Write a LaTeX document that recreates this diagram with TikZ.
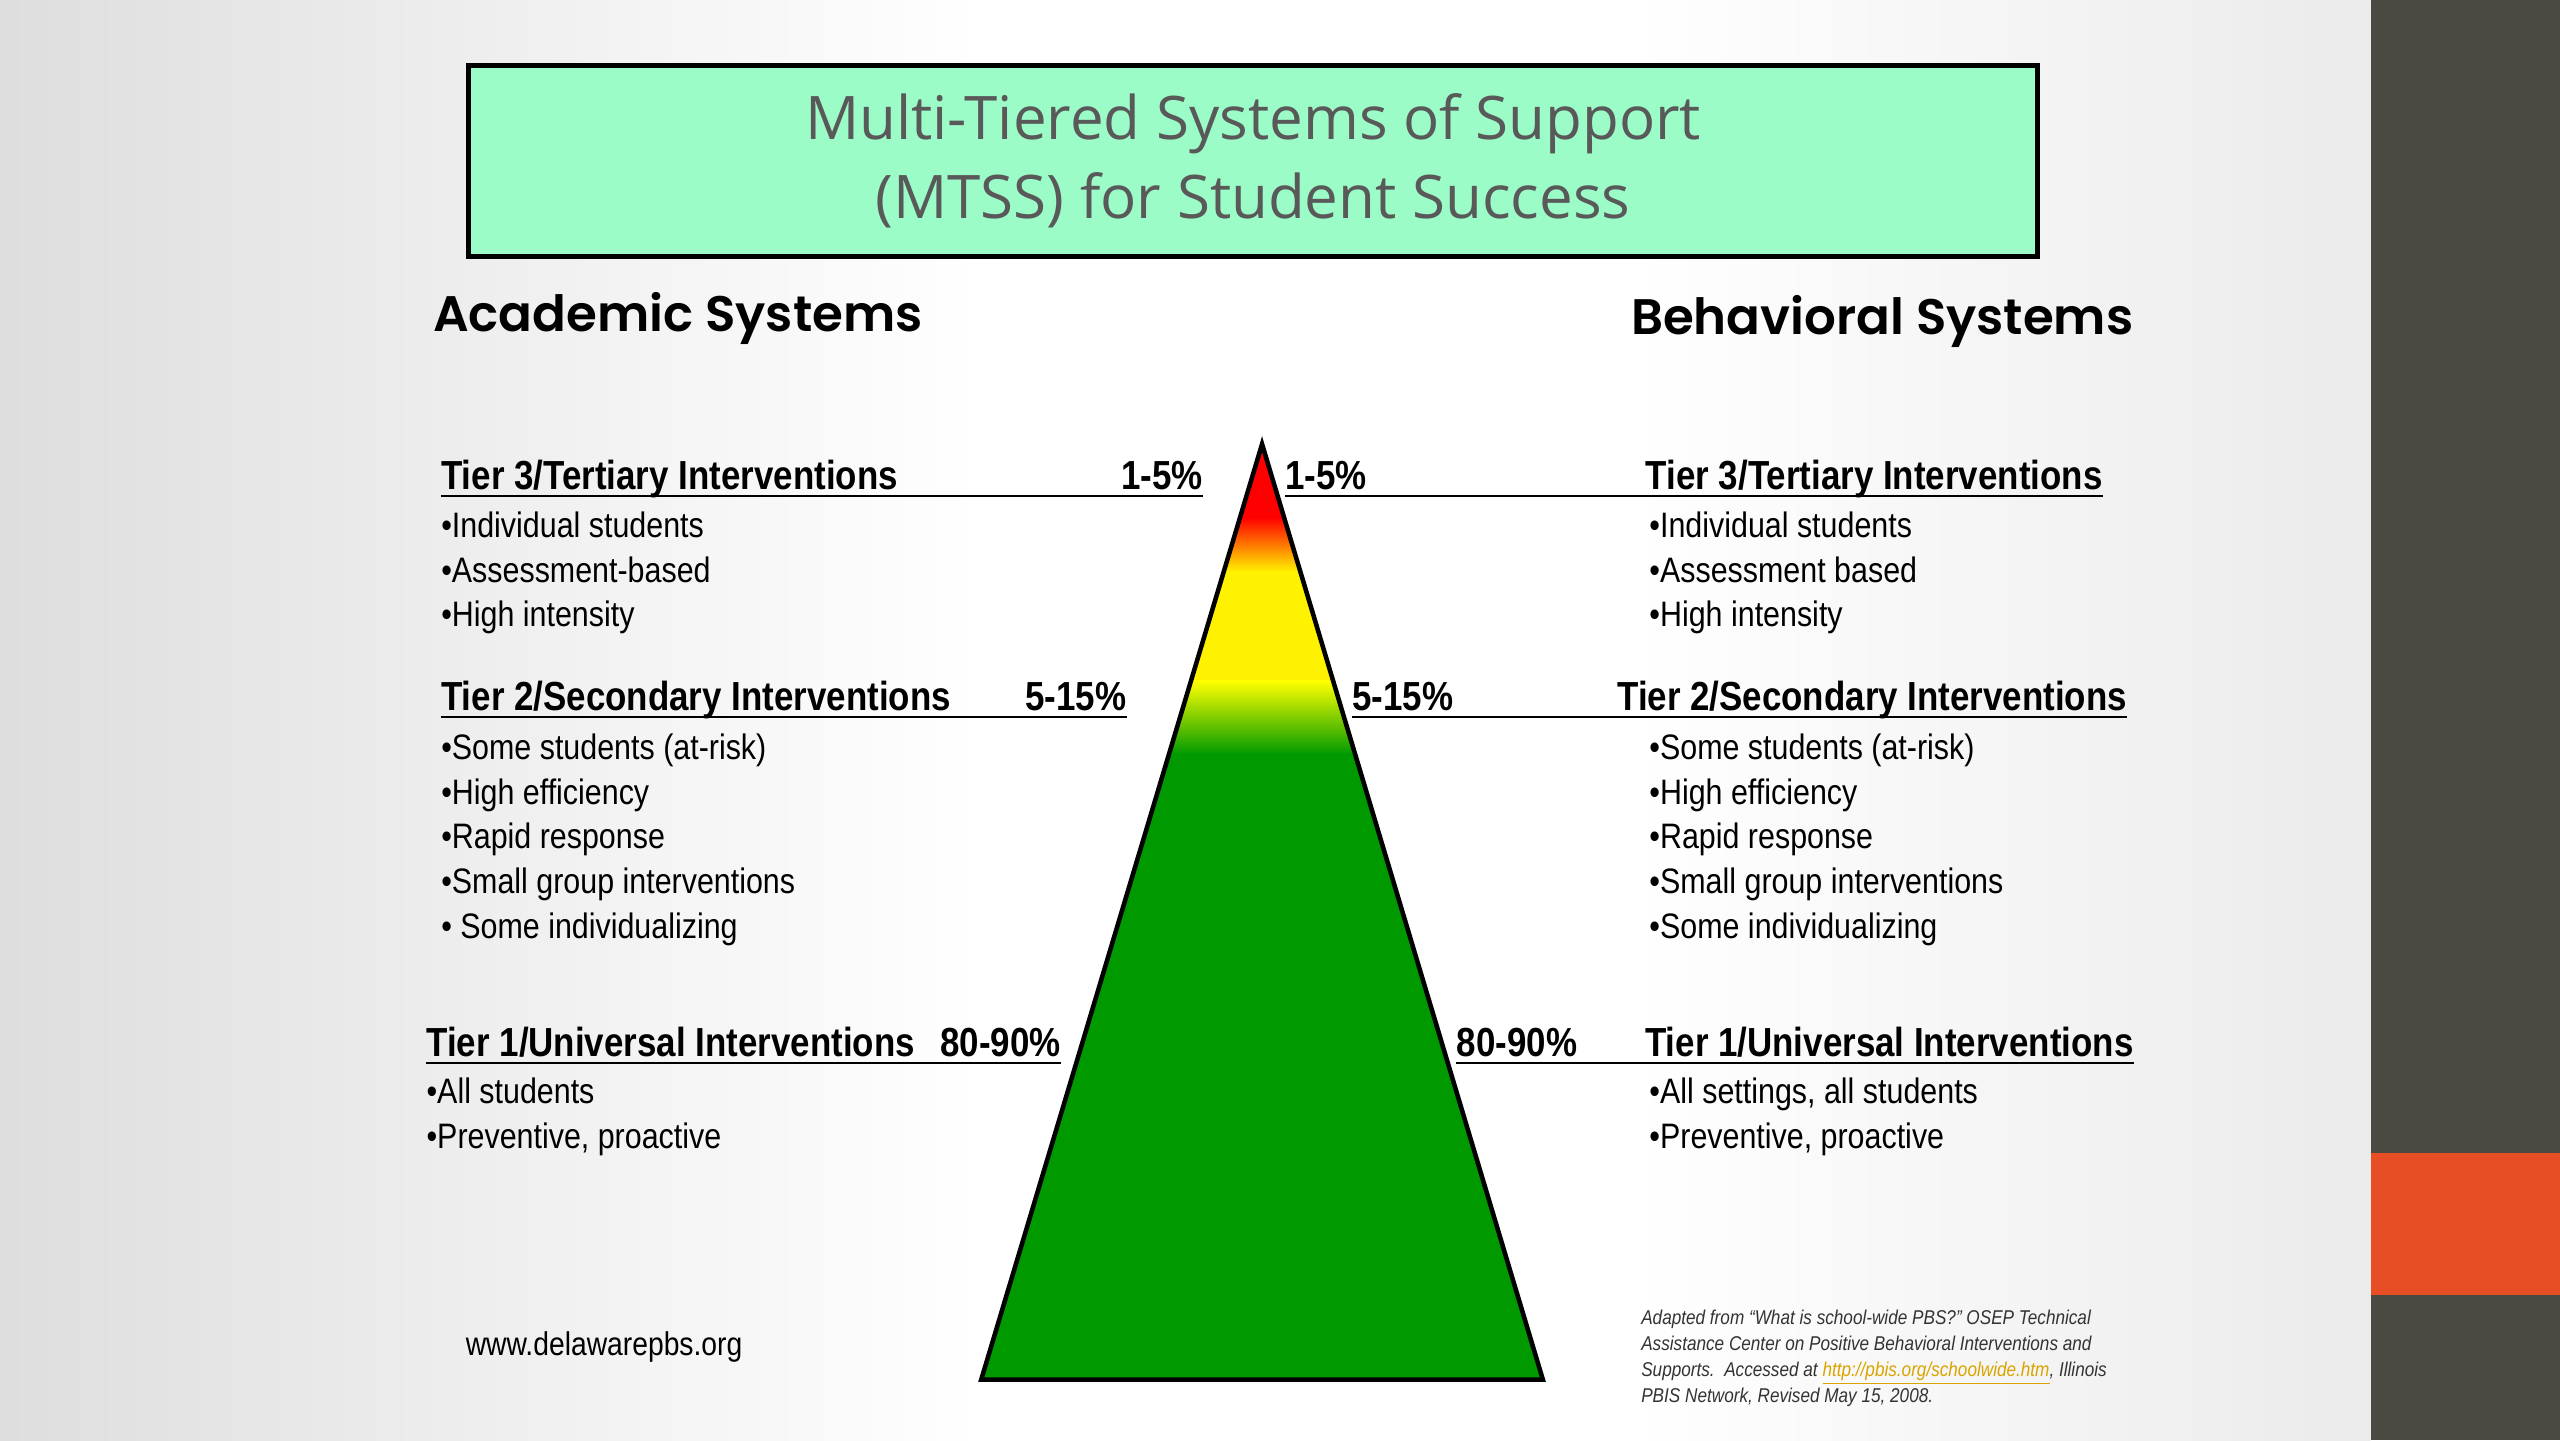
\documentclass[tikz,border=0pt]{standalone}
\usepackage{fontspec}
\setmainfont{Liberation Sans}[FakeStretch=0.86]
\newfontfamily\titlefont{Open Sans}
\newfontfamily\headfont{Poppins}[BoldFont=* SemiBold]
\usetikzlibrary{positioning}
\definecolor{mint}{HTML}{9CFCC8}
\definecolor{tiergreen}{HTML}{009A00}
\definecolor{slate}{HTML}{4A4A42}
\definecolor{rust}{HTML}{E84E25}
\definecolor{link}{HTML}{D9A400}

\begin{document}
\begin{tikzpicture}[x=0.72pt,y=-0.72pt,
	tierhead/.style={inner sep=0pt,font=\fontsize{17.9}{20}\selectfont\bfseries},
	bullets/.style={inner sep=0pt,align=left,anchor=north west,font=\fontsize{15.6}{19.8}\selectfont},
	tierline/.style={line width=0.9pt}]
	% background
	\useasboundingbox (0,0) rectangle (1568,882);
	\shade[left color=black!13,right color=white] (0,0) rectangle (600,882);
	\fill[white] (600,0) rectangle (1000,882);
	\shade[left color=white,right color=black!8] (1000,0) rectangle (1452,882);
	\fill[slate] (1452,0) rectangle (1568,882);
	\fill[rust] (1452,706) rectangle (1568,793);

	% title
	\node[draw=black,line width=2pt,fill=mint,minimum width=961*0.72pt,minimum height=117*0.72pt,
		align=center,text=black!65,font=\titlefont\fontsize{26.5}{35}\selectfont] (title) at (767.5,98.5)
		{Multi-Tiered Systems of Support\\(MTSS) for Student Success};
	\node[anchor=west,inner sep=0pt,font=\headfont\fontsize{22}{24}\selectfont\bfseries] (acad) at (265,195) {Academic Systems};
	\node[anchor=east,inner sep=0pt,font=\headfont\fontsize{22}{24}\selectfont\bfseries] (behav) at (1307,197) {Behavioral Systems};

	% triangle
	\begin{scope}
		\clip (773,272) -- (945,845) -- (601,845) -- cycle;
		\fill[red] (590,265) rectangle (960,318);
		\shade[top color=red,bottom color=yellow] (590,317) rectangle (960,352);
		\fill[yellow] (590,351) rectangle (960,418);
		\shade[top color=yellow,bottom color=tiergreen] (590,417) rectangle (960,462);
		\fill[tiergreen] (590,461) rectangle (960,850);
	\end{scope}
	\draw[line width=2pt,line join=miter] (773,272) -- (945,845) -- (601,845) -- cycle;

	% tier 3
	\node[tierhead,anchor=base west] (t3l) at (270,300) {Tier 3/Tertiary Interventions};
	\node[tierhead,anchor=base east] (p3l) at (737,300) {1-5\%};
	\draw[tierline] (t3l.base west)++(0,4) coordinate (a3) -- (a3 -| p3l.east);
	\node[bullets] (b3l) at (270,313) {•Individual students\\•Assessment-based\\•High intensity};
	\node[tierhead,anchor=base west] (p3r) at (787,300) {1-5\%};
	\node[tierhead,anchor=base east] (t3r) at (1288,300) {Tier 3/Tertiary Interventions};
	\draw[tierline] (p3r.base west)++(0,4) coordinate (c3) -- (c3 -| t3r.east);
	\node[bullets] (b3r) at (1010,313) {•Individual students\\•Assessment based\\•High intensity};

	% tier 2
	\node[tierhead,anchor=base west] (t2l) at (270,435) {Tier 2/Secondary Interventions};
	\node[tierhead,anchor=base east] (p2l) at (690,435) {5-15\%};
	\draw[tierline] (t2l.base west)++(0,4) coordinate (a2) -- (a2 -| p2l.east);
	\node[bullets] (b2l) at (270,449) {•Some students (at-risk)\\•High efficiency\\•Rapid response\\•Small group interventions\\• Some individualizing};
	\node[tierhead,anchor=base west] (p2r) at (828,435) {5-15\%};
	\node[tierhead,anchor=base east] (t2r) at (1303,435) {Tier 2/Secondary Interventions};
	\draw[tierline] (p2r.base west)++(0,4) coordinate (c2) -- (c2 -| t2r.east);
	\node[bullets] (b2r) at (1010,449) {•Some students (at-risk)\\•High efficiency\\•Rapid response\\•Small group interventions\\•Some individualizing};

	% tier 1
	\node[tierhead,anchor=base west] (t1l) at (261,647) {Tier 1/Universal Interventions};
	\node[tierhead,anchor=base east] (p1l) at (650,647) {80-90\%};
	\draw[tierline] (t1l.base west)++(0,4) coordinate (a1) -- (a1 -| p1l.east);
	\node[bullets] (b1l) at (261,660) {•All students\\•Preventive, proactive};
	\node[tierhead,anchor=base west] (p1r) at (892,647) {80-90\%};
	\node[tierhead,anchor=base east] (t1r) at (1307,647) {Tier 1/Universal Interventions};
	\draw[tierline] (p1r.base west)++(0,4) coordinate (c1) -- (c1 -| t1r.east);
	\node[bullets] (b1r) at (1010,660) {•All settings, all students\\•Preventive, proactive};

	% footer
	\node[anchor=west,inner sep=0pt,font=\fontsize{14.5}{16}\selectfont] (web) at (285,825) {www.delawarepbs.org};
	\node[anchor=north west,inner sep=0pt,align=left,text=black!80,font=\fontsize{8.8}{11.5}\selectfont\itshape] (cite) at (1005,802)
		{Adapted from “What is school-wide PBS?” OSEP Technical\\Assistance Center on Positive Behavioral Interventions and\\Supports.\ \ Accessed at \textcolor{link}{\underline{http://pbis.org/schoolwide.htm}}, Illinois\\PBIS Network, Revised May 15, 2008.};
\end{tikzpicture}
\end{document}
